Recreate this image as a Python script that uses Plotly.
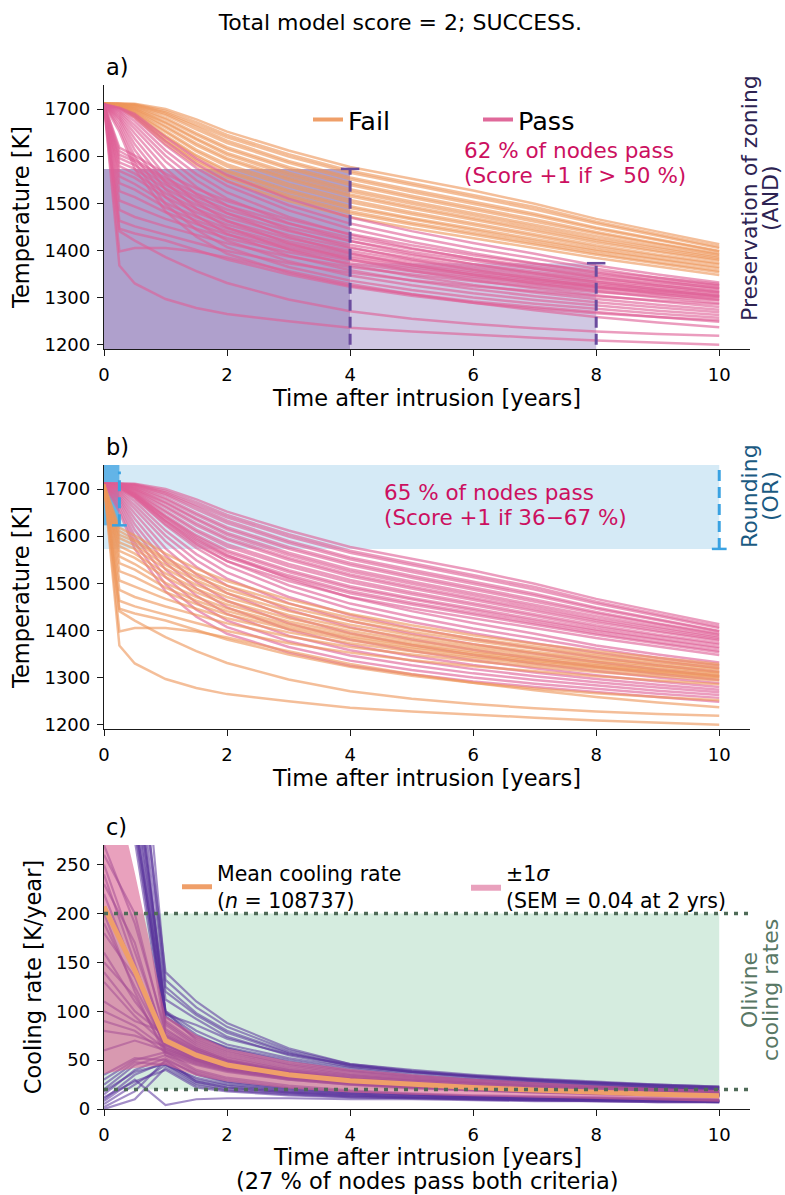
import plotly.graph_objects as go

FONT = "DejaVu Sans"

# ---------------- data ----------------
T_TIME = [0, 0.25, 0.5, 1, 1.5, 2, 3, 4, 5, 6, 7, 8, 9, 10]

TEMP_SLOW_HIGH = [
    [1712, 1712, 1711, 1700, 1678, 1652, 1612, 1577, 1552, 1527, 1499, 1467, 1440, 1413],
    [1712, 1712, 1710, 1696, 1672, 1645, 1604, 1569, 1543, 1518, 1492, 1461, 1435, 1408],
    [1712, 1711, 1709, 1693, 1667, 1640, 1599, 1565, 1539, 1513, 1487, 1457, 1431, 1405],
    [1711, 1711, 1708, 1690, 1662, 1633, 1590, 1555, 1529, 1504, 1478, 1449, 1424, 1399],
    [1711, 1710, 1706, 1687, 1657, 1628, 1586, 1551, 1524, 1499, 1474, 1446, 1422, 1398],
    [1711, 1710, 1705, 1681, 1649, 1619, 1577, 1543, 1516, 1491, 1466, 1439, 1415, 1393],
    [1711, 1709, 1703, 1678, 1645, 1615, 1573, 1539, 1512, 1487, 1462, 1436, 1413, 1391],
    [1711, 1709, 1701, 1672, 1638, 1607, 1565, 1530, 1504, 1479, 1455, 1430, 1408, 1387],
    [1710, 1708, 1700, 1670, 1635, 1603, 1560, 1525, 1499, 1475, 1450, 1425, 1404, 1384],
    [1710, 1708, 1698, 1664, 1627, 1596, 1554, 1519, 1493, 1469, 1445, 1421, 1400, 1381],
    [1710, 1707, 1696, 1661, 1623, 1592, 1550, 1515, 1489, 1465, 1441, 1417, 1397, 1378],
    [1710, 1707, 1694, 1654, 1614, 1583, 1541, 1507, 1481, 1458, 1434, 1411, 1391, 1373],
    [1710, 1706, 1692, 1651, 1610, 1578, 1536, 1502, 1477, 1454, 1430, 1407, 1388, 1370],
    [1710, 1706, 1690, 1644, 1602, 1570, 1528, 1494, 1469, 1447, 1424, 1402, 1383, 1365],
    [1710, 1705, 1688, 1641, 1599, 1566, 1524, 1490, 1466, 1443, 1420, 1399, 1380, 1362],
    [1710, 1705, 1686, 1635, 1592, 1559, 1517, 1483, 1459, 1437, 1415, 1394, 1375, 1357],
    [1710, 1704, 1684, 1632, 1588, 1555, 1513, 1479, 1455, 1433, 1412, 1391, 1372, 1354],
    [1710, 1704, 1682, 1626, 1581, 1547, 1505, 1471, 1447, 1426, 1405, 1384, 1366, 1348],
]

TEMP_SLOW_LOW = [
    [1710, 1703, 1690, 1640, 1595, 1560, 1510, 1470, 1441, 1416, 1393, 1368, 1349, 1332],
    [1710, 1702, 1686, 1631, 1584, 1547, 1496, 1457, 1429, 1404, 1383, 1361, 1342, 1326],
    [1710, 1700, 1681, 1623, 1575, 1537, 1485, 1446, 1418, 1394, 1373, 1353, 1335, 1320],
    [1710, 1698, 1674, 1612, 1562, 1523, 1471, 1433, 1405, 1382, 1362, 1343, 1326, 1312],
    [1710, 1695, 1666, 1601, 1549, 1510, 1458, 1420, 1393, 1371, 1351, 1333, 1317, 1303],
    [1710, 1692, 1658, 1589, 1535, 1495, 1444, 1407, 1381, 1359, 1340, 1323, 1308, 1295],
    [1710, 1688, 1648, 1574, 1519, 1479, 1429, 1394, 1369, 1348, 1330, 1314, 1300, 1288],
    [1710, 1684, 1637, 1559, 1503, 1463, 1415, 1381, 1357, 1337, 1320, 1305, 1292, 1280],
    [1710, 1680, 1625, 1544, 1489, 1449, 1402, 1369, 1346, 1327, 1311, 1297, 1285, 1274],
    [1710, 1675, 1613, 1529, 1474, 1435, 1389, 1358, 1336, 1318, 1303, 1290, 1279, 1269],
    [1710, 1668, 1599, 1513, 1459, 1421, 1377, 1347, 1326, 1309, 1295, 1283, 1272, 1263],
    [1710, 1660, 1586, 1498, 1444, 1407, 1365, 1336, 1316, 1300, 1287, 1276, 1266, 1257],
    [1710, 1652, 1573, 1483, 1429, 1393, 1353, 1325, 1307, 1292, 1280, 1269, 1259, 1249],
]

TEMP_FAST = [
    [1710, 1618, 1601, 1563, 1531, 1505, 1466, 1435, 1411, 1390, 1372, 1356, 1342, 1329],
    [1710, 1611, 1593, 1553, 1521, 1495, 1457, 1427, 1403, 1383, 1366, 1350, 1337, 1325],
    [1708, 1603, 1589, 1547, 1513, 1487, 1449, 1420, 1397, 1378, 1361, 1346, 1333, 1321],
    [1705, 1596, 1581, 1539, 1506, 1479, 1441, 1412, 1390, 1371, 1355, 1341, 1329, 1318],
    [1710, 1587, 1573, 1531, 1497, 1471, 1433, 1405, 1384, 1366, 1351, 1337, 1325, 1314],
    [1710, 1579, 1563, 1521, 1488, 1462, 1426, 1399, 1378, 1361, 1346, 1333, 1322, 1311],
    [1700, 1569, 1554, 1513, 1481, 1455, 1419, 1393, 1373, 1356, 1342, 1329, 1318, 1308],
    [1710, 1557, 1541, 1501, 1471, 1447, 1413, 1388, 1369, 1352, 1338, 1326, 1315, 1305],
    [1710, 1543, 1529, 1491, 1463, 1441, 1408, 1384, 1365, 1349, 1335, 1323, 1313, 1303],
    [1710, 1526, 1513, 1481, 1456, 1434, 1403, 1379, 1361, 1345, 1332, 1321, 1311, 1301],
    [1710, 1506, 1493, 1467, 1446, 1426, 1396, 1373, 1356, 1341, 1328, 1317, 1307, 1298],
    [1710, 1486, 1471, 1451, 1433, 1415, 1387, 1365, 1349, 1335, 1323, 1312, 1303, 1294],
    [1710, 1463, 1451, 1433, 1416, 1399, 1373, 1353, 1337, 1324, 1313, 1303, 1294, 1286],
    [1710, 1446, 1436, 1421, 1401, 1381, 1349, 1323, 1304, 1289, 1277, 1267, 1259, 1252],
    [1710, 1398, 1405, 1405, 1398, 1385, 1356, 1329, 1307, 1289, 1273, 1259, 1247, 1237],
    [1710, 1441, 1421, 1386, 1356, 1331, 1296, 1271, 1255, 1244, 1235, 1228, 1223, 1219],
    [1710, 1368, 1330, 1297, 1278, 1265, 1250, 1236, 1228, 1221, 1215, 1209, 1204, 1200],
]

ZONING_TIMES = [4, 8]
ZONING_MAX_TEMP = [1573, 1373]
ROUNDING_TIMES = [0.25, 10]
ROUNDING_MIN_TEMP = [1623, 1573]

RATE_TIME = [0, 0.5, 1, 1.5, 2, 3, 4, 5, 6, 7, 8, 9, 10]

RATE_HIGH = [
    [520, 330, 95, 72, 60, 46, 38, 32, 28, 25, 23, 21, 19],
    [480, 300, 90, 68, 56, 43, 35, 30, 27, 24, 22, 20, 18],
    [560, 360, 100, 80, 66, 52, 42, 35, 31, 27, 25, 22, 20],
    [440, 290, 86, 64, 52, 40, 33, 29, 26, 23, 21, 19, 18],
    [620, 400, 140, 110, 88, 62, 46, 40, 35, 31, 28, 25, 23],
    [600, 420, 125, 98, 80, 58, 44, 38, 34, 30, 27, 25, 23],
    [650, 340, 112, 92, 74, 55, 43, 37, 33, 29, 26, 24, 22],
    [500, 320, 98, 76, 62, 48, 39, 33, 29, 26, 23, 21, 19],
    [420, 285, 88, 66, 54, 41, 34, 29, 26, 23, 21, 19, 17],
    [580, 380, 94, 74, 63, 50, 40, 34, 30, 27, 24, 22, 20],
    [460, 310, 82, 62, 50, 38, 31, 27, 24, 21, 19, 18, 16],
    [700, 480, 132, 104, 84, 60, 46, 39, 34, 30, 27, 24, 22],
    [540, 350, 97, 86, 72, 56, 45, 38, 33, 29, 26, 23, 21],
    [380, 275, 76, 60, 49, 37, 30, 26, 23, 21, 19, 17, 16],
    [660, 390, 120, 96, 78, 57, 45, 38, 33, 29, 27, 24, 22],
    [400, 295, 100, 70, 58, 45, 36, 31, 27, 24, 22, 20, 18],
]

RATE_MID = [
    [250, 160, 72, 56, 46, 36, 30, 26, 23, 21, 19, 17, 16],
    [220, 140, 68, 54, 45, 35, 29, 25, 22, 20, 18, 17, 15],
    [190, 125, 65, 52, 43, 34, 28, 24, 22, 19, 18, 16, 15],
    [160, 110, 70, 55, 45, 35, 29, 25, 22, 20, 18, 16, 15],
    [130, 95, 66, 52, 43, 34, 28, 24, 21, 19, 17, 16, 14],
    [100, 85, 62, 50, 41, 32, 27, 23, 21, 19, 17, 15, 14],
    [80, 75, 64, 50, 42, 33, 27, 24, 21, 19, 17, 15, 14],
    [60, 70, 60, 48, 40, 31, 26, 22, 20, 18, 16, 15, 13],
    [240, 150, 58, 46, 39, 30, 25, 22, 19, 17, 16, 14, 13],
    [200, 120, 55, 45, 38, 30, 25, 21, 19, 17, 15, 14, 13],
    [140, 100, 75, 58, 47, 37, 30, 26, 23, 20, 18, 17, 15],
    [110, 90, 78, 60, 49, 38, 31, 27, 24, 21, 19, 17, 16],
    [270, 190, 80, 62, 50, 39, 32, 27, 24, 21, 19, 17, 16],
    [230, 170, 66, 52, 44, 34, 28, 24, 21, 19, 17, 16, 14],
    [180, 135, 62, 50, 42, 33, 27, 23, 21, 19, 17, 15, 14],
    [150, 115, 60, 49, 41, 32, 27, 23, 20, 18, 16, 15, 14],
    [260, 200, 74, 58, 47, 37, 30, 26, 23, 20, 18, 17, 15],
    [90, 80, 58, 47, 40, 31, 26, 22, 20, 18, 16, 15, 13],
]

RATE_LOW = [
    [2, 18, 50, 28, 22, 17, 14, 12, 11, 10, 9, 8, 8],
    [5, 25, 45, 26, 20, 16, 13, 12, 10, 9, 9, 8, 7],
    [10, 35, 48, 30, 24, 18, 15, 13, 12, 10, 10, 9, 8],
    [15, 40, 52, 35, 27, 20, 16, 14, 12, 11, 10, 9, 9],
    [20, 45, 55, 38, 30, 22, 18, 15, 13, 12, 11, 10, 9],
    [25, 48, 45, 32, 25, 19, 16, 14, 12, 11, 10, 9, 8],
    [30, 50, 58, 40, 32, 24, 19, 16, 14, 13, 12, 11, 10],
    [8, 30, 4, 10, 11, 11, 10, 10, 9, 8, 8, 7, 7],
    [0, 10, 42, 24, 19, 15, 12, 11, 10, 9, 8, 8, 7],
    [35, 52, 50, 36, 28, 21, 17, 15, 13, 12, 11, 10, 9],
    [12, 28, 40, 22, 18, 14, 12, 11, 10, 9, 8, 7, 7],
    [18, 38, 46, 28, 22, 17, 14, 12, 11, 10, 9, 9, 8],
]

MEAN_RATE = [207, 142, 70, 55, 45, 35, 29, 25, 22, 19.5, 17, 15, 13.5]
SIGMA_RATE = [171, 100, 25, 21, 17, 14, 12, 10.5, 9, 8, 7, 6.5, 6]
OLIVINE_RATES = [20, 200]

TITLE = "Total model score = 2; SUCCESS."
TEXT_A = ["62 % of nodes pass", "(Score +1 if > 50 %)"]
TEXT_B = ["65 % of nodes pass", "(Score +1 if 36\u221267 %)"]
LEGEND_MEAN = "Mean cooling rate<br>(<i>n</i> = 108737)"
LEGEND_SIGMA = "\u00b11<i>\u03c3</i><br>(SEM = 0.04 at 2 yrs)"
XTITLE = "Time after intrusion [years]"
XTITLE_C = ["Time after intrusion [years]", "(27 % of nodes pass both criteria)"]
SIDE_LABELS = [
    ("Preservation of zoning", "(AND)", "#2D2352", 198),
    ("Rounding", "(OR)", "#1B5A82", 496),
    ("Olivine", "cooling rates", "#587765", 990),
]

# ---------------- styling ----------------
ORANGE_LINE = "rgba(238,150,90,0.62)"
PINK_LINE = "rgba(222,95,150,0.62)"
ORANGE = "#EF9F69"
PINK = "#E0699A"
PURPLE_LINE = "rgba(88,50,155,0.55)"
SIGMA_FILL = "rgba(218,98,145,0.6)"
TEXT_RED = "#CC1060"

Y_T_RANGE = [1191, 1751]
X_RANGE = [0, 10.5]
RATE_RANGE = [0, 270]

# plot-area geometry in pixels (used to place paper-referenced texts)
PLOT_L, PLOT_R, PLOT_T, PLOT_B = 104, 750, 85, 1109
PW, PH = PLOT_R - PLOT_L, PLOT_B - PLOT_T


def px_to_paper_x(px):
    return (px - PLOT_L) / PW


def px_to_paper_y(py):
    return (PLOT_B - py) / PH


all_curves = TEMP_SLOW_HIGH + TEMP_SLOW_LOW + TEMP_FAST


def val_at(curve, t):
    return curve[T_TIME.index(t)]


pass_a = [all(val_at(c, t) < lim for t, lim in zip(ZONING_TIMES, ZONING_MAX_TEMP)) for c in all_curves]
pass_b = [any(val_at(c, t) >= lim for t, lim in zip(ROUNDING_TIMES, ROUNDING_MIN_TEMP)) for c in all_curves]

fig = go.Figure()


def add_lines(curves, xs, color, xa, ya, width=2.5):
    for c in curves:
        fig.add_trace(go.Scatter(x=xs, y=c, mode="lines", line=dict(color=color, width=width),
                                 showlegend=False, hoverinfo="skip", xaxis=xa, yaxis=ya))


# panel a: fail first, pass on top
add_lines([c for c, p in zip(all_curves, pass_a) if not p], T_TIME, ORANGE_LINE, "x", "y")
add_lines([c for c, p in zip(all_curves, pass_a) if p], T_TIME, PINK_LINE, "x", "y")
fig.add_trace(go.Scatter(x=[None], y=[None], mode="lines", line=dict(color=ORANGE, width=4),
                         name="Fail", legend="legend", xaxis="x", yaxis="y"))
fig.add_trace(go.Scatter(x=[None], y=[None], mode="lines", line=dict(color=PINK, width=4),
                         name="Pass", legend="legend", xaxis="x", yaxis="y"))

# panel b: pass first, fail on top
add_lines([c for c, p in zip(all_curves, pass_b) if p], T_TIME, PINK_LINE, "x2", "y2")
add_lines([c for c, p in zip(all_curves, pass_b) if not p], T_TIME, ORANGE_LINE, "x2", "y2")

# panel c
add_lines(RATE_HIGH + RATE_MID + RATE_LOW, RATE_TIME, PURPLE_LINE, "x3", "y3", width=2.2)
lower = [m - s for m, s in zip(MEAN_RATE, SIGMA_RATE)]
upper = [m + s for m, s in zip(MEAN_RATE, SIGMA_RATE)]
# legend entry for the mean line (listed first)
fig.add_trace(go.Scatter(x=[None], y=[None], mode="lines", line=dict(color=ORANGE, width=5),
                         name=LEGEND_MEAN, legend="legend2", xaxis="x3", yaxis="y3"))
fig.add_trace(go.Scatter(x=RATE_TIME, y=lower, mode="lines", line=dict(width=0, color=SIGMA_FILL),
                         showlegend=False, hoverinfo="skip", xaxis="x3", yaxis="y3"))
fig.add_trace(go.Scatter(x=RATE_TIME, y=upper, mode="lines", line=dict(width=0, color=SIGMA_FILL),
                         fill="tonexty", fillcolor=SIGMA_FILL, name=LEGEND_SIGMA,
                         legend="legend2", hoverinfo="skip", xaxis="x3", yaxis="y3"))
fig.add_trace(go.Scatter(x=RATE_TIME, y=MEAN_RATE, mode="lines", line=dict(color=ORANGE, width=5),
                         showlegend=False, hoverinfo="skip", xaxis="x3", yaxis="y3"))

# ---------------- shapes ----------------
shapes = []
ZONE_DARK = "#AFA0CC"
ZONE_LIGHT = "#D0C8E3"
ZONE_LINE = "#6B4C9E"
shapes.append(dict(type="rect", xref="x", yref="y", x0=0, x1=ZONING_TIMES[0], y0=Y_T_RANGE[0],
                   y1=ZONING_MAX_TEMP[0], fillcolor=ZONE_DARK, line=dict(width=0), layer="below"))
shapes.append(dict(type="rect", xref="x", yref="y", x0=ZONING_TIMES[0], x1=ZONING_TIMES[1], y0=Y_T_RANGE[0],
                   y1=ZONING_MAX_TEMP[1], fillcolor=ZONE_LIGHT, line=dict(width=0), layer="below"))
for t, lim in zip(ZONING_TIMES, ZONING_MAX_TEMP):
    shapes.append(dict(type="line", xref="x", yref="y", x0=t, x1=t, y0=1200, y1=lim,
                       line=dict(color=ZONE_LINE, width=3, dash="11px,6px"), layer="above"))
    shapes.append(dict(type="line", xref="x", yref="y", x0=t - 0.15, x1=t + 0.15, y0=lim, y1=lim,
                       line=dict(color=ZONE_LINE, width=2.5), layer="above"))

ROUND_LIGHT = "#D5EAF6"
ROUND_DARK = "#63B4E7"
ROUND_LINE = "#3AA2E2"
shapes.append(dict(type="rect", xref="x2", yref="y2", x0=0, x1=ROUNDING_TIMES[1], y0=ROUNDING_MIN_TEMP[1],
                   y1=Y_T_RANGE[1], fillcolor=ROUND_LIGHT, line=dict(width=0), layer="below"))
shapes.append(dict(type="rect", xref="x2", yref="y2", x0=0, x1=ROUNDING_TIMES[0], y0=ROUNDING_MIN_TEMP[0],
                   y1=Y_T_RANGE[1], fillcolor=ROUND_DARK, line=dict(width=0), layer="below"))
for t, lim, top in zip(ROUNDING_TIMES, ROUNDING_MIN_TEMP, [1737, 1750]):
    shapes.append(dict(type="line", xref="x2", yref="y2", x0=t, x1=t, y0=lim, y1=top,
                       line=dict(color=ROUND_LINE, width=3, dash="11px,6px"), layer="above"))
    shapes.append(dict(type="line", xref="x2", yref="y2", x0=t - 0.12, x1=t + 0.12, y0=lim, y1=lim,
                       line=dict(color=ROUND_LINE, width=2.5), layer="above"))

OLIV_FILL = "#D5ECDF"
OLIV_LINE = "#4F6B58"
shapes.append(dict(type="rect", xref="x3", yref="y3", x0=0, x1=10, y0=OLIVINE_RATES[0], y1=OLIVINE_RATES[1],
                   fillcolor=OLIV_FILL, line=dict(width=0), layer="below"))
for r in OLIVINE_RATES:
    shapes.append(dict(type="line", xref="x3", yref="y3", x0=X_RANGE[0], x1=X_RANGE[1], y0=r, y1=r,
                       line=dict(color=OLIV_LINE, width=3.5, dash="4px,6px"), layer="above"))

# ---------------- annotations ----------------
annotations = []
for lines, xdata, xref, ys in ((TEXT_A, 5.82, "x", (150, 175)), (TEXT_B, 4.515, "x2", (492, 517))):
    for txt, ypx in zip(lines, ys):
        annotations.append(dict(text=txt, xref=xref, yref="paper", x=xdata, y=px_to_paper_y(ypx),
                                xanchor="left", yanchor="middle", showarrow=False,
                                font=dict(size=21.5, color=TEXT_RED)))
for line1, line2, col, yc in SIDE_LABELS:
    for txt, xpx in ((line1, 749), (line2, 770)):
        annotations.append(dict(text=txt, xref="paper", yref="paper", x=px_to_paper_x(xpx),
                                y=px_to_paper_y(yc), xanchor="center", yanchor="middle", textangle=-90,
                                showarrow=False, font=dict(size=22, color=col)))
for txt, ypx in zip(XTITLE_C, (1157, 1181)):
    annotations.append(dict(text=txt, xref="paper", yref="paper", x=0.5, y=px_to_paper_y(ypx),
                            xanchor="center", yanchor="middle", showarrow=False,
                            font=dict(size=22.5, color="#000")))
for lab, ytop in zip(["a)", "b)", "c)"], [1.0, 0.6289, 0.2578]):
    annotations.append(dict(text=lab, xref="paper", yref="paper", x=0, y=ytop, xanchor="left",
                            yanchor="bottom", yshift=3, showarrow=False, font=dict(size=22.5, color="#000")))

AXIS_COMMON = dict(showline=True, linecolor="#1a1a1a", linewidth=1.3, ticks="outside", ticklen=6,
                   tickwidth=1.3, tickcolor="#1a1a1a", showgrid=False, zeroline=False, automargin=False,
                   tickfont=dict(size=18, color="#000"), ticklabelstandoff=3)


def xaxis(anchor, title, standoff=6):
    return dict(AXIS_COMMON, anchor=anchor, range=X_RANGE, tickvals=[0, 2, 4, 6, 8, 10],
                domain=[0, 1], title=dict(text=title, font=dict(size=22.5, color="#000"), standoff=standoff))


def yaxis(anchor, domain, rng, tickvals, title):
    return dict(AXIS_COMMON, anchor=anchor, domain=domain, range=rng, tickvals=tickvals,
                title=dict(text=title, font=dict(size=22.5, color="#000"), standoff=8))


TEMP_TICKS = [1200, 1300, 1400, 1500, 1600, 1700]
RATE_TICKS = [0, 50, 100, 150, 200, 250]

fig.update_layout(
    width=785, height=1195, autosize=False,
    margin=dict(l=PLOT_L, r=785 - PLOT_R, t=PLOT_T, b=1195 - PLOT_B, autoexpand=False),
    paper_bgcolor="white", plot_bgcolor="white",
    font=dict(family=FONT, color="#000"),
    title=dict(text=TITLE, x=0.51, xref="container", xanchor="center", y=1 - 22 / 1195, yref="container",
               yanchor="middle", font=dict(size=22, color="#000")),
    xaxis=xaxis("y", XTITLE),
    yaxis=yaxis("x", [0.7422, 1.0], Y_T_RANGE, TEMP_TICKS, "Temperature [K]"),
    xaxis2=xaxis("y2", XTITLE),
    yaxis2=yaxis("x2", [0.3711, 0.6289], Y_T_RANGE, TEMP_TICKS, "Temperature [K]"),
    xaxis3=xaxis("y3", ""),
    yaxis3=yaxis("x3", [0.0, 0.2578], RATE_RANGE, RATE_TICKS, "Cooling rate [K/year]"),
    legend=dict(orientation="h", x=px_to_paper_x(308), y=px_to_paper_y(120), xanchor="left", yanchor="middle",
                font=dict(size=25.5, color="#000"), bgcolor="rgba(0,0,0,0)", entrywidth=125,
                entrywidthmode="pixels", traceorder="normal"),
    legend2=dict(orientation="h", x=px_to_paper_x(177), y=px_to_paper_y(887), xanchor="left", yanchor="middle",
                 font=dict(size=20.5, color="#000"), bgcolor="rgba(0,0,0,0)", entrywidth=244,
                 entrywidthmode="pixels", traceorder="normal"),
    shapes=shapes,
    annotations=annotations,
    hovermode=False,
)

fig.write_html("out.html")
